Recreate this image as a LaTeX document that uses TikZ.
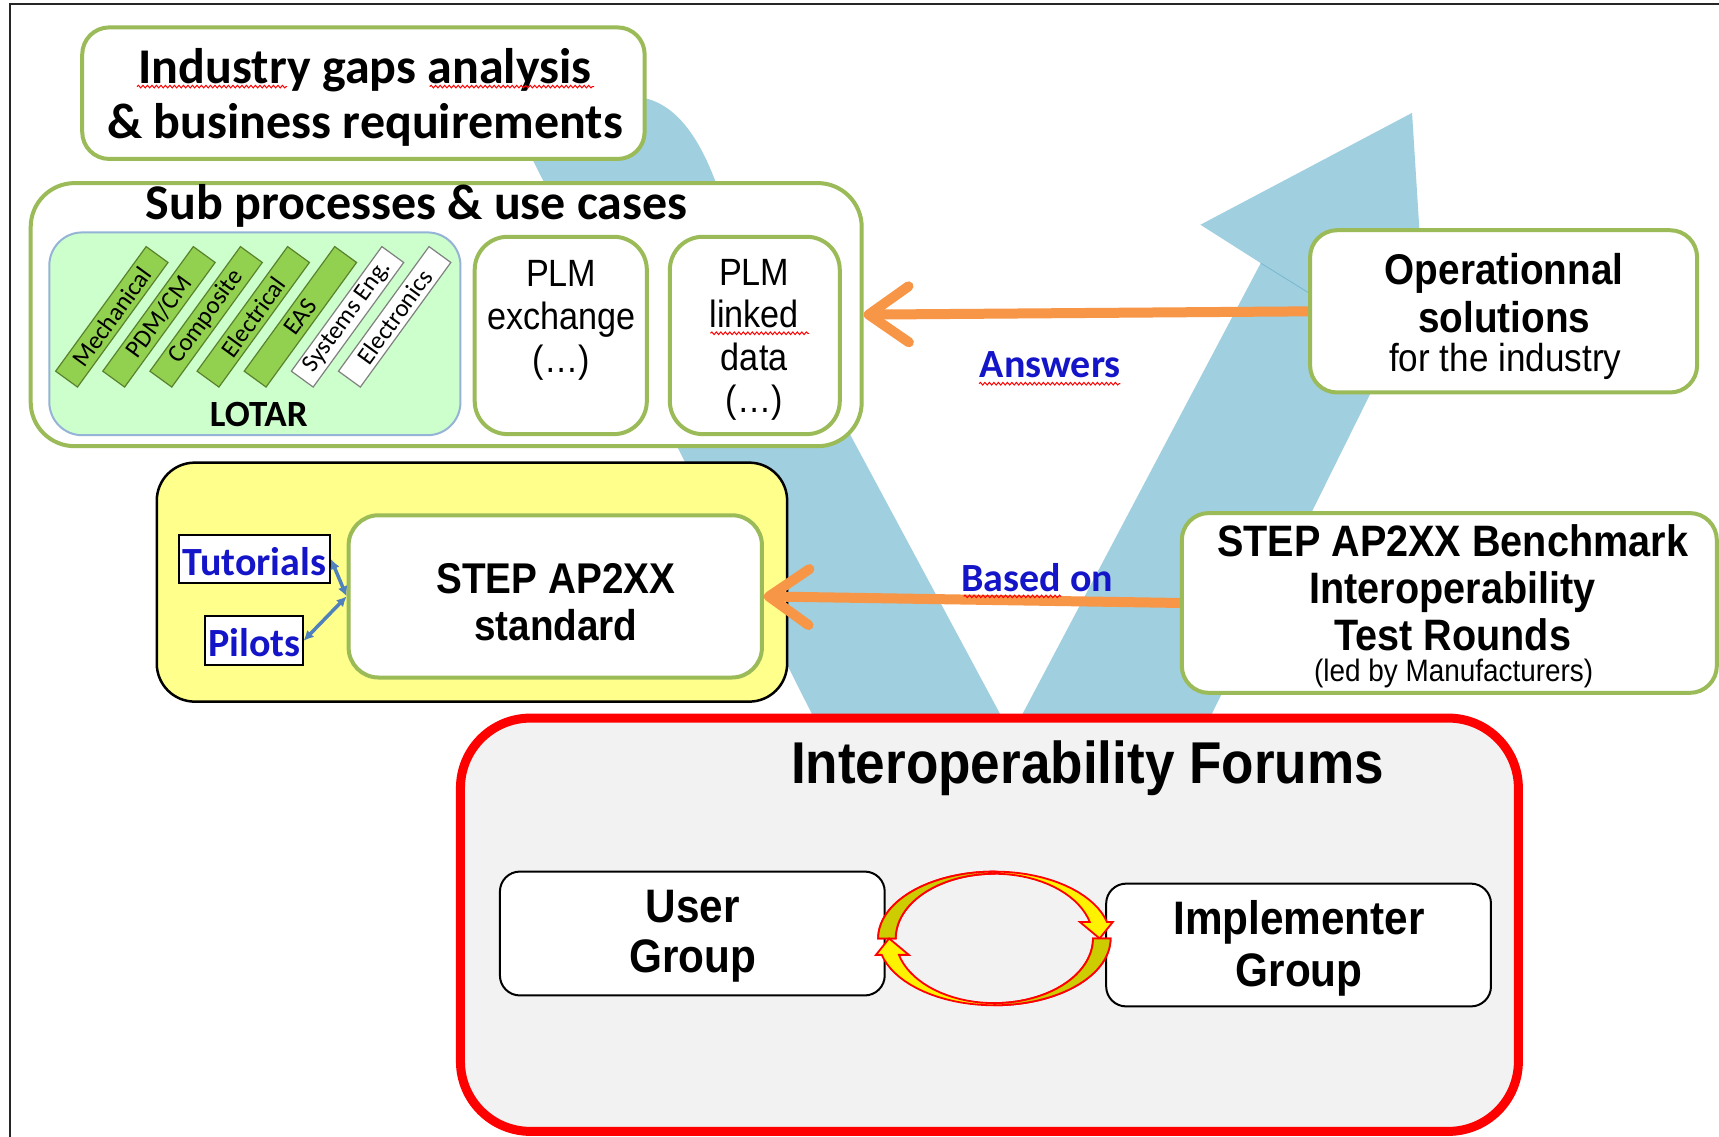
\documentclass[tikz,border=0pt]{standalone}
\usepackage{fontspec}
\setmainfont{Liberation Sans}
\newfontfamily\arn[FakeStretch=0.9]{Liberation Sans}
\newfontfamily\calib{Carlito}
\usetikzlibrary{fit,arrows.meta,decorations.pathmorphing}
\definecolor{gborder}{RGB}{155,187,89}
\definecolor{vblue}{RGB}{160,207,223}
\definecolor{vline}{RGB}{120,185,205}
\definecolor{oarr}{RGB}{247,150,70}
\definecolor{lotfill}{RGB}{204,255,204}
\definecolor{lotbord}{RGB}{149,179,215}
\definecolor{barg}{RGB}{146,208,80}
\definecolor{bargb}{RGB}{90,130,45}
\definecolor{ylw}{RGB}{255,255,140}
\definecolor{lblue}{RGB}{20,20,200}
\definecolor{arrblue}{RGB}{79,129,189}
\definecolor{forumbg}{RGB}{242,242,242}
\definecolor{olivec}{RGB}{204,204,0}
\newcommand\fcbold[2]{\calib\bfseries\fontsize{#1}{#2}\selectfont}
\newcommand\fabold[2]{\arn\bfseries\fontsize{#1}{#2}\selectfont}
\newcommand\fareg[2]{\arn\fontsize{#1}{#2}\selectfont}
\tikzset{
  gbox/.style={draw=gborder, line width=4pt, fill=white, inner sep=0pt, rounded corners=#1},
  gbox/.default=27pt,
  kbox/.style={draw=black, line width=2pt, fill=white, inner sep=0pt, rounded corners=20pt},
  sqbox/.style={draw=black, line width=2pt, fill=white, inner sep=0pt},
  gbar/.style={draw=bargb, fill=barg, line width=1.2pt, minimum width=154pt, minimum height=27pt, inner sep=0pt, font=\calib\fontsize{25}{28}\selectfont, rotate=54},
  wbar/.style={gbar, draw=gray, fill=white},
  txt/.style={inner sep=0pt, align=center},
  oline/.style={draw=oarr, line width=10pt, -{Straight Barb[length=40pt, width=56pt, round]}},
  barrow/.style={draw=arrblue, line width=3.5pt, {Latex[length=10pt,width=10pt]}-{Latex[length=10pt,width=10pt]}},
  spell/.style={draw=red, line width=1pt, decorate, decoration={snake, amplitude=1.3pt, segment length=4.5pt}},
  cyc/.style={draw=red, line width=1.8pt, line join=miter}
}
\begin{document}
\begin{tikzpicture}[x=1.0963pt,y=-1.0963pt]
\useasboundingbox (0,0) rectangle (1568,1037);
\fill[white] (0,0) rectangle (1568,1037);
% frame
\draw[line width=2pt, black!85] (1568,4) -- (9,4) -- (9,1037);
% V shape
\fill[vblue] (746,662) -- (483,140) -- (480,120) .. controls (520,92) and (560,84) .. (590,90) .. controls (620,98) and (640,130) .. (655,172) -- (918,662) -- cycle;
\fill[vblue] (927,662) -- (1150,240) -- (1095,205) -- (1288,103) -- (1298,262) -- (1100,662) -- cycle;
\draw[vline, line width=0.8pt] (1150,240) -- (1200,271);
% top boxes
\node[gbox=27pt, fit={(75,25)(588,145)}] (gaps) {};
\node[txt, font={\fcbold{50}{55}}] (gapst) at (333,89) {Industry gaps analysis\\\& business requirements};
\node[gbox=44pt, fit={(28,167)(786,407)}] (sub) {};
\node[txt, font={\fcbold{50}{58}}] (subt) at (380,188) {Sub processes \& use cases};
\node[draw=lotbord, line width=2pt, fill=lotfill, rounded corners=33pt, inner sep=0pt, fit={(45,212)(420,397)}] (lotar) {};
\node[txt, font={\fcbold{37}{40}}] (lotart) at (236,378) {LOTAR};
\node[gbar] (b1) at (102,289) {Mechanical};
\node[gbar] (b2) at (145,289) {PDM/CM};
\node[gbar] (b3) at (188,289) {Composite};
\node[gbar] (b4) at (231,289) {Electrical};
\node[gbar] (b5) at (274,289) {EAS};
\node[wbar] (b6) at (317,289) {Systems Eng.};
\node[wbar] (b7) at (360,289) {Electronics};
\node[gbox=33pt, fit={(433,216)(590,396)}] (plmx) {};
\node[txt, font={\fareg{38}{43}}] (plmxt) at (512,292) {PLM\\exchange\\(…)};
\node[gbox=33pt, fit={(611,216)(766,396)}] (plml) {};
\node[txt, font={\fareg{38}{42.5}}] (plmlt) at (688,310) {PLM\\linked\\data\\(…)};
% right boxes
\node[gbox=27pt, fit={(1195,210)(1548,358)}] (oper) {};
\node[txt, font={\fabold{43}{48}}] (opert) at (1372,267) {Operationnal\\solutions};
\node[txt, font={\fareg{39}{44}}] (opert2) at (1373,330) {for the industry};
\node[gbox=27pt, fit={(1078,468)(1566,632)}] (bench) {};
\node[txt, font={\fabold{44}{47}}] (bencht) at (1325,536) {STEP AP2XX Benchmark\\Interoperability\\Test Rounds};
\node[txt, font={\fareg{31}{34}}] (bencht2) at (1326,614) {(led by Manufacturers)};
% yellow group
\node[draw=black, line width=2.5pt, fill=ylw, rounded corners=38pt, inner sep=0pt, fit={(143,422)(718,640)}] (yel) {};
\node[gbox=30pt, fit={(318,470)(695,618)}] (stepstd) {};
\node[txt, font={\fabold{43}{47}}] (stepstdt) at (507,549) {STEP AP2XX\\standard};
\node[sqbox, fit={(163,488)(301,532)}] (tut) {};
\node[txt, font={\fcbold{40}{44}}, text=lblue] (tutt) at (232,512) {Tutorials};
\node[sqbox, fit={(187,562)(276,607)}] (pil) {};
\node[txt, font={\fcbold{40}{44}}, text=lblue] (pilt) at (232,586) {Pilots};
\draw[barrow] (tut.east) -- (stepstd.west);
\draw[barrow] (pil.east) -- (stepstd.west);
% orange arrows
\draw[oline] (oper.west) -- (sub.east);
\draw[oline] (bench.west) -- (stepstd.east);
\node[txt, font={\fcbold{40}{44}}, text=lblue] (ans) at (958,333) {Answers};
\node[txt, font={\fcbold{40}{44}}, text=lblue] (based) at (946,527) {Based on};
% forums
\node[draw=red, line width=9pt, fill=forumbg, rounded corners=70pt, inner sep=0pt, fit={(420,655)(1385,1032)}] (forum) {};
\node[txt, font={\fabold{59}{64}}] (forumt) at (992,701) {Interoperability Forums};
\node[kbox, fit={(456,795)(807,908)}] (user) {};
\node[txt, font={\fabold{47}{50}}] (usert) at (632,854) {User\\Group};
\node[kbox, fit={(1009,806)(1360,918)}] (impl) {};
\node[txt, font={\fabold{47}{52}}] (implt) at (1185,865) {Implementer\\Group};
% cycle arrows between the groups
\coordinate (cc) at (907,856);
\begin{scope}[shift={(cc)}]
  \foreach \r in {0,180}{
  \begin{scope}[rotate=\r]
    \path[cyc, fill=yellow] plot[domain=180:345.8, samples=40, variable=\t] ({106*cos(\t)},{61*sin(\t)}) -- (108,-15) -- (96,0) -- (78,-15) -- plot[domain=345.3:180, samples=40, variable=\t] ({90*cos(\t)},{59*sin(\t)}) -- cycle;
    \path[cyc, fill=olivec] plot[domain=180:270, samples=30, variable=\t] ({106*cos(\t)},{61*sin(\t)}) -- plot[domain=270:180, samples=30, variable=\t] ({90*cos(\t)},{59*sin(\t)}) -- cycle;
  \end{scope}}
\end{scope}
% spelling marks
\draw[spell] (125,79) -- (262,79);
\draw[spell] (392,79) -- (542,79);
\draw[spell] (648,304) -- (738,304);
\draw[spell] (893,350) -- (1022,350);
\draw[spell] (879,544) -- (968,544);
\end{tikzpicture}
\end{document}
